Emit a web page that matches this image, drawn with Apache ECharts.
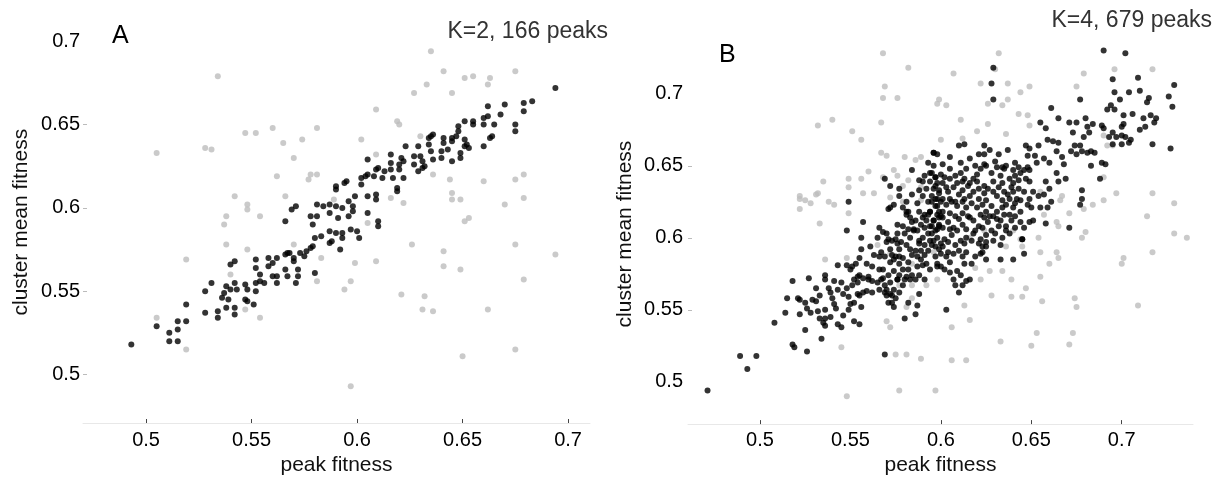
<!DOCTYPE html>
<html><head><meta charset="utf-8">
<script src="https://cdn.jsdelivr.net/npm/echarts@6/dist/echarts.min.js"></script>
<style>html,body{margin:0;padding:0;background:#fff}#c{width:1215px;height:481px}</style>
</head><body><div id="c"></div>
<script>
// Panel A (K=2): peak fitness vs cluster mean fitness
const aPeaksBlack = [
[0.493,0.518],[0.505,0.529],[0.511,0.525],[0.511,0.520],[0.515,0.520],[0.515,0.527],[0.515,0.532],[0.519,0.532],[0.519,0.542],[0.528,0.550],[0.528,0.537],[0.531,0.555],[0.534,0.538],[0.534,0.534],[0.536,0.546],[0.537,0.549],[0.538,0.553],[0.540,0.551],[0.539,0.545],[0.538,0.540],[0.542,0.540],[0.542,0.536],[0.543,0.551],[0.542,0.555],[0.540,0.566],[0.542,0.568],[0.547,0.554],[0.548,0.551],[0.547,0.545],[0.548,0.544],[0.551,0.542],[0.552,0.569],[0.552,0.564],[0.552,0.555],[0.552,0.550],[0.554,0.560],[0.554,0.556],[0.556,0.555],[0.558,0.570],[0.558,0.565],[0.560,0.567],[0.562,0.570],[0.560,0.559],[0.562,0.559],[0.562,0.555],[0.566,0.572],[0.567,0.573],[0.568,0.573],[0.570,0.570],[0.570,0.568],[0.566,0.563],[0.567,0.559],[0.571,0.555],[0.572,0.563],[0.572,0.559],[0.573,0.573],[0.575,0.571],[0.576,0.574],[0.578,0.576],[0.579,0.577],[0.580,0.582],[0.583,0.583],[0.580,0.561],[0.587,0.586],[0.587,0.579],[0.588,0.580],[0.590,0.585],[0.593,0.585],[0.593,0.582],[0.592,0.575],[0.597,0.587],[0.600,0.586],[0.601,0.582],[0.566,0.592],[0.569,0.599],[0.571,0.601],[0.578,0.595],[0.579,0.590],[0.581,0.595],[0.581,0.602],[0.584,0.601],[0.587,0.602],[0.587,0.597],[0.590,0.601],[0.591,0.594],[0.593,0.600],[0.596,0.604],[0.598,0.601],[0.598,0.598],[0.596,0.595],[0.599,0.607],[0.590,0.613],[0.590,0.611],[0.594,0.615],[0.595,0.616],[0.602,0.618],[0.604,0.619],[0.605,0.620],[0.602,0.614],[0.605,0.607],[0.605,0.597],[0.605,0.629],
[0.694,0.672],[0.679,0.663],[0.683,0.664],[0.679,0.658],[0.670,0.662],[0.668,0.656],[0.675,0.650],[0.675,0.646],[0.662,0.661],[0.662,0.655],[0.660,0.654],[0.660,0.650],[0.665,0.650],[0.664,0.643],[0.663,0.642],[0.660,0.637],[0.651,0.652],[0.655,0.652],[0.655,0.650],[0.648,0.649],[0.648,0.646],[0.647,0.643],[0.645,0.642],[0.645,0.640],[0.649,0.633],[0.649,0.630],[0.645,0.628],[0.651,0.641],[0.652,0.638],[0.653,0.636],[0.651,0.637],[0.641,0.642],[0.641,0.639],[0.643,0.635],[0.640,0.634],[0.640,0.630],[0.636,0.629],[0.635,0.643],[0.636,0.644],[0.634,0.642],[0.634,0.638],[0.635,0.634],[0.629,0.637],[0.630,0.631],[0.631,0.628],[0.632,0.625],[0.631,0.624],[0.629,0.622],[0.627,0.631],[0.627,0.626],[0.623,0.637],[0.621,0.630],[0.622,0.628],[0.620,0.626],[0.620,0.623],[0.622,0.618],[0.619,0.612],[0.619,0.610],[0.616,0.632],[0.616,0.627],[0.616,0.623],[0.617,0.618],[0.613,0.622],[0.612,0.618],[0.610,0.624],[0.609,0.623],[0.608,0.619],[0.609,0.605],[0.609,0.608],[0.610,0.592],[0.610,0.589]
];
const aPeaksGray = [
[0.534,0.679],[0.505,0.633],[0.528,0.636],[0.531,0.635],[0.547,0.645],[0.552,0.645],[0.560,0.648],[0.565,0.639],[0.574,0.641],[0.581,0.648],[0.602,0.641],[0.570,0.630],[0.562,0.619],[0.578,0.620],[0.577,0.617],[0.581,0.620],[0.542,0.607],[0.548,0.602],[0.548,0.599],[0.566,0.607],[0.538,0.595],[0.537,0.590],[0.554,0.595],[0.589,0.605],[0.605,0.591],[0.538,0.578],[0.548,0.575],[0.570,0.578],[0.583,0.570],[0.519,0.569],[0.540,0.560],[0.599,0.567],[0.597,0.556],[0.594,0.551],[0.581,0.556],[0.547,0.539],[0.554,0.534],[0.505,0.534],[0.519,0.515],[0.597,0.493],
[0.635,0.694],[0.641,0.682],[0.651,0.678],[0.655,0.679],[0.663,0.678],[0.662,0.674],[0.675,0.682],[0.633,0.674],[0.627,0.669],[0.645,0.669],[0.609,0.659],[0.619,0.652],[0.620,0.650],[0.630,0.643],[0.609,0.632],[0.636,0.620],[0.644,0.617],[0.660,0.616],[0.675,0.617],[0.679,0.620],[0.645,0.609],[0.645,0.605],[0.649,0.605],[0.616,0.606],[0.622,0.603],[0.670,0.602],[0.679,0.606],[0.651,0.592],[0.653,0.594],[0.626,0.578],[0.641,0.574],[0.609,0.568],[0.641,0.565],[0.649,0.563],[0.675,0.578],[0.694,0.572],[0.679,0.557],[0.621,0.548],[0.632,0.547],[0.631,0.539],[0.636,0.538],[0.662,0.539],[0.650,0.511],[0.675,0.515]
];
// Panel B (K=4)
const bPeaksBlack = [
[0.471,0.494],[0.489,0.518],[0.498,0.518],[0.493,0.509],[0.508,0.541],[0.518,0.526],[0.519,0.524],[0.526,0.521],
[0.515,0.558],[0.514,0.548],[0.518,0.570],[0.521,0.558],[0.522,0.557],[0.525,0.555],[0.525,0.536],[0.527,0.572],[0.528,0.548],[0.531,0.556],[0.532,0.549],[0.533,0.560],[0.536,0.574],[0.536,0.571],[0.536,0.550],[0.533,0.544],[0.535,0.541],[0.536,0.544],[0.536,0.539],[0.534,0.530],[0.538,0.565],[0.540,0.558],[0.541,0.554],[0.541,0.570],[0.543,0.581],[0.543,0.540],[0.545,0.538],
[0.548,0.581],[0.551,0.580],[0.548,0.565],[0.550,0.554],[0.549,0.550],[0.551,0.567],[0.552,0.571],[0.554,0.573],[0.554,0.569],[0.555,0.574],[0.557,0.572],[0.560,0.573],[0.554,0.561],[0.555,0.560],[0.552,0.555],[0.552,0.542],[0.555,0.540],[0.556,0.552],[0.557,0.562],[0.559,0.563],[0.562,0.562],
[0.548,0.605],[0.549,0.625],[0.556,0.600],[0.556,0.592],[0.557,0.611],[0.555,0.586],[0.561,0.594],[0.565,0.600],[0.566,0.607],
[0.567,0.590],[0.566,0.587],[0.566,0.578],[0.568,0.572],[0.569,0.567],[0.569,0.562],[0.570,0.564],[0.572,0.569],[0.572,0.561],[0.573,0.555],[0.573,0.560],[0.575,0.558],[0.567,0.571],
[0.569,0.519],
[0.580,0.544],[0.582,0.555],[0.586,0.547],[0.587,0.553],[0.588,0.561],[0.586,0.571],
[0.568,0.604],[0.570,0.597],[0.571,0.599],[0.572,0.592],[0.573,0.588],[0.574,0.585],[0.576,0.603],[0.576,0.596],[0.577,0.592],[0.577,0.587],[0.577,0.582],[0.579,0.578],[0.580,0.571],[0.581,0.573],[0.583,0.571],[0.577,0.574],[0.576,0.571],
[0.583,0.592],[0.584,0.588],[0.586,0.591],[0.587,0.587],[0.589,0.591],[0.589,0.585],[0.590,0.581],[0.591,0.588],[0.592,0.582],[0.593,0.591],[0.597,0.587],
[0.580,0.603],[0.583,0.600],[0.585,0.605],[0.588,0.598],[0.590,0.600],[0.593,0.603],[0.594,0.598],[0.597,0.605],[0.599,0.609],
[0.571,0.620],[0.572,0.621],[0.581,0.616],[0.582,0.618],[0.584,0.611],[0.585,0.606],[0.589,0.609],[0.591,0.616],[0.592,0.612],[0.594,0.618],[0.597,0.622],[0.598,0.616],[0.599,0.614],
[0.569,0.641],[0.572,0.636],[0.577,0.634],[0.584,0.647],[0.588,0.640],[0.592,0.634],[0.594,0.645],[0.596,0.659],[0.597,0.642],[0.598,0.627],[0.595,0.629],[0.593,0.625],
[0.579,0.621],[0.581,0.618],[0.583,0.614],[0.586,0.612],[0.588,0.618],[0.590,0.614],[0.593,0.616],[0.596,0.612],[0.599,0.618],
[0.576,0.609],[0.579,0.608],[0.582,0.606],[0.587,0.605],[0.591,0.607],[0.595,0.608],[0.598,0.606],
[0.570,0.603],[0.573,0.598],[0.575,0.599],[0.578,0.597],[0.581,0.595],[0.588,0.596],[0.591,0.595],[0.595,0.595],[0.599,0.592],
[0.569,0.587],[0.572,0.583],[0.575,0.587],[0.579,0.586],[0.582,0.583],[0.587,0.580],[0.594,0.578],[0.598,0.580],
[0.568,0.578],[0.571,0.574],[0.574,0.577],[0.576,0.571],[0.582,0.578],[0.584,0.574],[0.588,0.574],[0.591,0.571],
[0.565,0.569],[0.566,0.564],[0.570,0.560],[0.574,0.564],[0.577,0.562],[0.579,0.567],[0.571,0.555],[0.574,0.552],
[0.559,0.582],[0.562,0.580],[0.563,0.588],[0.560,0.571],[0.562,0.570],
[0.550,0.578],[0.553,0.582],[0.545,0.569],[0.543,0.564],[0.546,0.561],[0.549,0.559],[0.539,0.562],[0.531,0.565],[0.529,0.557],[0.526,0.551],[0.522,0.547],[0.542,0.551],[0.546,0.546],[0.539,0.545],
[0.574,0.623],[0.577,0.629],[0.581,0.625],[0.584,0.630],[0.587,0.624],[0.590,0.629],[0.588,0.633],[0.590,0.639],[0.591,0.643],[0.598,0.638],[0.599,0.633],[0.596,0.650],[0.593,0.652],
[0.690,0.730],[0.702,0.728],[0.629,0.718],[0.628,0.707],[0.629,0.696],
[0.695,0.710],[0.709,0.711],[0.729,0.706],[0.726,0.698],[0.728,0.691],
[0.696,0.701],[0.699,0.696],[0.704,0.701],[0.710,0.702],[0.715,0.697],[0.714,0.694],[0.694,0.692],[0.692,0.689],[0.696,0.689],[0.701,0.685],[0.706,0.686],[0.701,0.679],[0.700,0.677],[0.712,0.683],[0.716,0.685],[0.719,0.683],[0.718,0.680],[0.713,0.677],
[0.689,0.678],[0.690,0.676],[0.695,0.673],[0.693,0.670],[0.697,0.670],[0.700,0.671],[0.702,0.670],[0.705,0.668],[0.704,0.666],[0.700,0.665],[0.695,0.665],[0.710,0.675],[0.717,0.665],[0.727,0.662],
[0.677,0.696],[0.661,0.690],[0.665,0.683],[0.671,0.680],[0.675,0.680],[0.680,0.683],[0.684,0.679],[0.681,0.677],[0.682,0.673],[0.679,0.670],[0.677,0.664],[0.673,0.673],[0.674,0.664],[0.672,0.660],[0.675,0.658],[0.678,0.660],[0.681,0.659],[0.683,0.660],[0.685,0.659],[0.683,0.650],[0.689,0.652],[0.691,0.651],[0.688,0.641],[0.678,0.633],[0.678,0.627],[0.677,0.623],[0.671,0.607],[0.658,0.610],
[0.655,0.680],[0.658,0.676],[0.659,0.668],[0.662,0.667],[0.665,0.666],[0.664,0.660],[0.667,0.656],[0.668,0.651],[0.669,0.641],[0.665,0.639],[0.664,0.645],[0.660,0.652],[0.657,0.655],[0.654,0.664],[0.649,0.662],[0.652,0.657],[0.653,0.652],[0.647,0.664],[0.648,0.657],[0.648,0.649],[0.649,0.647],
[0.658,0.639],[0.660,0.634],[0.657,0.630],[0.654,0.629],[0.655,0.621],[0.659,0.621],[0.661,0.625],[0.649,0.639],[0.651,0.632],[0.649,0.627],[0.647,0.641],[0.644,0.645],[0.641,0.643],[0.638,0.641],[0.639,0.635],[0.643,0.634],[0.646,0.632],[0.642,0.627],[0.640,0.621],[0.644,0.618],[0.648,0.623],[0.650,0.621],[0.651,0.612],
[0.636,0.650],[0.635,0.648],[0.633,0.643],[0.631,0.649],[0.628,0.645],[0.625,0.650],[0.624,0.651],[0.622,0.648],[0.620,0.644],[0.618,0.641],[0.616,0.638],[0.613,0.641],[0.611,0.645],[0.608,0.643],[0.605,0.641],[0.602,0.642],[0.600,0.644],[0.597,0.642],[0.595,0.645],
[0.610,0.664],[0.613,0.665],[0.624,0.664],[0.627,0.661],[0.632,0.658],[0.637,0.661],[0.596,0.659],[0.601,0.651],[0.616,0.655],[0.624,0.658],
[0.596,0.634],[0.599,0.631],[0.601,0.627],[0.604,0.632],[0.607,0.635],[0.610,0.630],[0.612,0.633],[0.615,0.636],[0.618,0.632],[0.621,0.634],[0.624,0.631],[0.626,0.634],[0.629,0.632],[0.632,0.635],[0.635,0.632],[0.637,0.630],[0.640,0.632],
[0.595,0.625],[0.598,0.622],[0.601,0.618],[0.603,0.623],[0.606,0.625],[0.609,0.622],[0.612,0.625],[0.614,0.621],[0.617,0.624],[0.620,0.621],[0.623,0.623],[0.625,0.618],[0.628,0.622],[0.631,0.618],[0.634,0.621],[0.636,0.623],[0.638,0.616],[0.641,0.624],
[0.596,0.612],[0.599,0.608],[0.601,0.614],[0.604,0.611],[0.607,0.607],[0.610,0.613],[0.612,0.609],[0.615,0.615],[0.618,0.612],[0.621,0.608],[0.624,0.614],[0.626,0.611],[0.629,0.615],[0.633,0.612],[0.636,0.608],[0.639,0.612],[0.644,0.611],[0.646,0.607],
[0.595,0.603],[0.598,0.600],[0.602,0.599],[0.606,0.602],[0.611,0.598],[0.614,0.600],[0.618,0.603],[0.622,0.599],[0.625,0.602],[0.630,0.603],[0.634,0.600],[0.638,0.603],[0.645,0.599],[0.649,0.611],
[0.597,0.594],[0.601,0.594],[0.604,0.590],[0.605,0.583],[0.610,0.591],[0.612,0.587],[0.614,0.590],[0.617,0.582],[0.622,0.589],[0.623,0.594],[0.625,0.594],[0.602,0.578],[0.609,0.577],[0.607,0.571],[0.612,0.567],[0.616,0.571],[0.610,0.562],[0.603,0.550],[0.633,0.585],[0.640,0.585],[0.646,0.589],[0.645,0.599],
[0.594,0.639],[0.597,0.636],[0.601,0.638],[0.603,0.635],[0.609,0.638],[0.612,0.639],[0.620,0.639],[0.624,0.636],[0.629,0.639],[0.634,0.638],[0.640,0.638],[0.643,0.640],
[0.597,0.627],[0.600,0.625],[0.605,0.627],[0.608,0.625],[0.613,0.627],[0.616,0.629],[0.621,0.627],[0.625,0.626],[0.631,0.629],[0.634,0.626],[0.638,0.627],[0.644,0.626],
[0.594,0.618],[0.600,0.615],[0.605,0.617],[0.608,0.615],[0.612,0.617],[0.616,0.614],[0.622,0.616],[0.627,0.615],[0.631,0.613],[0.635,0.616],[0.641,0.615],
[0.594,0.608],[0.601,0.607],[0.605,0.606],[0.609,0.605],[0.614,0.606],[0.619,0.605],[0.623,0.607],[0.628,0.605],[0.632,0.608],[0.636,0.605],[0.641,0.607],
[0.596,0.598],[0.600,0.596],[0.604,0.597],[0.608,0.595],[0.613,0.596],[0.617,0.598],[0.621,0.596],[0.625,0.597],[0.629,0.598],[0.633,0.595],
[0.600,0.589],[0.603,0.587],[0.607,0.589],[0.613,0.582],[0.619,0.587],[0.623,0.590],[0.625,0.585],[0.600,0.580],[0.605,0.576],[0.611,0.574],[0.614,0.570],[0.608,0.567],[0.598,0.582],
[0.598,0.658],[0.605,0.656],[0.611,0.652],[0.619,0.650],[0.621,0.658],[0.630,0.653],[0.634,0.649],[0.641,0.652],[0.643,0.649],[0.646,0.647],[0.640,0.647],[0.605,0.648],[0.614,0.648]
];
const bPeaksGray = [
[0.551,0.674],[0.556,0.668],[0.567,0.659],[0.570,0.657],[0.580,0.656],[0.586,0.654],[0.589,0.656],
[0.560,0.646],[0.556,0.641],[0.549,0.641],[0.549,0.635],[0.549,0.617],[0.557,0.631],[0.563,0.631],[0.568,0.642],[0.574,0.647],[0.576,0.643],[0.579,0.636],[0.582,0.640],[0.589,0.635],[0.572,0.628],[0.579,0.625],[0.589,0.626],
[0.535,0.639],[0.532,0.631],[0.531,0.630],[0.522,0.629],[0.522,0.627],[0.525,0.626],[0.528,0.624],[0.538,0.625],[0.541,0.623],[0.522,0.620],[0.533,0.610],
[0.536,0.585],[0.548,0.586],[0.565,0.595],[0.577,0.567],[0.584,0.567],[0.592,0.567],[0.598,0.571],[0.581,0.552],[0.584,0.558],[0.570,0.542],[0.572,0.538],[0.545,0.524],[0.575,0.519],[0.581,0.519],[0.589,0.516],[0.548,0.490],[0.577,0.494],[0.597,0.494],[0.596,0.590],[0.584,0.582],[0.572,0.589],
[0.632,0.728],[0.630,0.717],[0.607,0.714],[0.622,0.707],[0.637,0.707],[0.644,0.701],[0.649,0.705],[0.599,0.696],[0.598,0.693],[0.603,0.692],[0.626,0.693],[0.634,0.692],[0.637,0.696],[0.611,0.682],[0.626,0.679],[0.643,0.686],[0.648,0.685],[0.649,0.678],[0.679,0.714],[0.696,0.717],[0.717,0.717],[0.675,0.705],[0.600,0.668],[0.612,0.669],[0.620,0.674],[0.636,0.672],[0.690,0.671],[0.692,0.664],[0.695,0.664],
[0.697,0.631],[0.717,0.631],[0.729,0.624],[0.714,0.615],[0.729,0.603],[0.736,0.600],[0.717,0.590],[0.701,0.586],[0.700,0.582],[0.690,0.626],[0.684,0.623],[0.690,0.642],
[0.679,0.620],[0.680,0.604],[0.678,0.600],[0.671,0.617],[0.667,0.629],[0.666,0.626],[0.664,0.611],[0.665,0.608],[0.657,0.616],
[0.654,0.600],[0.655,0.590],[0.664,0.590],[0.665,0.586],[0.660,0.582],[0.645,0.594],[0.644,0.599],[0.636,0.594],[0.634,0.577],[0.639,0.571],[0.647,0.565],[0.639,0.559],[0.645,0.559],[0.628,0.560],[0.627,0.577],[0.619,0.579],[0.622,0.571],[0.613,0.553],[0.616,0.543],[0.606,0.538],
[0.655,0.573],[0.656,0.556],[0.674,0.558],[0.675,0.552],[0.653,0.534],[0.673,0.534],[0.671,0.526],[0.650,0.525],[0.633,0.528],[0.709,0.553],
[0.616,0.600],[0.624,0.605],[0.640,0.605],[0.655,0.632],[0.606,0.515],[0.614,0.515],
[0.568,0.728],[0.582,0.718],[0.569,0.705],[0.568,0.697],[0.576,0.697],[0.567,0.680],[0.532,0.678],[0.540,0.682]
];
const tickLabelValues = [0.5, 0.55, 0.6, 0.65, 0.7];
const aXTickValues = [0.5, 0.55, 0.6, 0.65, 0.7];
const aYTickValues = [0.5, 0.55, 0.6, 0.65];
const bXTickValues = [0.5, 0.6, 0.65, 0.7];
const bYTickValues = [0.55, 0.6, 0.65];
const panelLetters = ['A', 'B'];
const panelTitles = ['K=2, 166 peaks', 'K=4, 679 peaks'];
const xName = 'peak fitness';
const yName = 'cluster mean fitness';

const FONT = 'Liberation Sans, Arial, Helvetica, sans-serif';
const chart = echarts.init(document.getElementById('c'), null, {renderer: 'canvas'});

function xAxisCfg(gi, min, max, ticks, gap, margin) {
  return {
    type: 'value', gridIndex: gi, min: min, max: max,
    name: xName, nameLocation: 'middle', nameGap: gap,
    nameTextStyle: {fontFamily: FONT, fontSize: 21, color: '#111'},
    axisLine: {show: true, lineStyle: {color: '#e8e8e8', width: 1}},
    axisTick: {show: true, inside: true, length: 4, customValues: ticks, lineStyle: {color: '#444'}},
    axisLabel: {customValues: tickLabelValues, margin: margin, fontFamily: FONT, fontSize: 20, color: '#000'},
    splitLine: {show: false}
  };
}
function yAxisCfg(gi, min, max, ticks, gap, margin) {
  return {
    type: 'value', gridIndex: gi, min: min, max: max,
    name: yName, nameLocation: 'middle', nameGap: gap, nameRotate: 90,
    nameTextStyle: {fontFamily: FONT, fontSize: 21, color: '#111'},
    axisLine: {show: false},
    axisTick: {show: true, inside: true, length: 4, customValues: ticks, lineStyle: {color: '#bbb'}},
    axisLabel: {customValues: tickLabelValues, margin: margin, fontFamily: FONT, fontSize: 20, color: '#000'},
    splitLine: {show: false}
  };
}

const option = {
  backgroundColor: '#fff',
  animation: false,
  title: [
    {text: panelLetters[0], left: 112, top: 24, padding: 0, textStyle: {fontFamily: FONT, fontSize: 25, fontWeight: 'normal', color: '#000'}},
    {text: panelLetters[1], left: 719, top: 43, padding: 0, textStyle: {fontFamily: FONT, fontSize: 25, fontWeight: 'normal', color: '#000'}},
    {text: panelTitles[0], right: 607, top: 20, padding: 0, textStyle: {fontFamily: FONT, fontSize: 23, fontWeight: 'normal', color: '#333'}},
    {text: panelTitles[1], right: 3, top: 9, padding: 0, textStyle: {fontFamily: FONT, fontSize: 23, fontWeight: 'normal', color: '#333'}}
  ],
  grid: [
    {left: 83, top: 21.3, width: 507, height: 401.7},
    {left: 688, top: 44, width: 505, height: 391}
  ],
  xAxis: [
    xAxisCfg(0, 0.4701, 0.7104, aXTickValues, 27, 7),
    xAxisCfg(1, 0.4602, 0.7394, bXTickValues, 24, 6)
  ],
  yAxis: [
    yAxisCfg(0, 0.4709, 0.712, aYTickValues, 51, 3),
    yAxisCfg(1, 0.4707, 0.7345, bYTickValues, 52, 5)
  ],
  series: [
    {type: 'scatter', xAxisIndex: 0, yAxisIndex: 0, data: aPeaksGray, symbolSize: 6, itemStyle: {color: '#bdbdbd'}, silent: true},
    {type: 'scatter', xAxisIndex: 0, yAxisIndex: 0, data: aPeaksBlack, symbolSize: 6, itemStyle: {color: '#000'}, silent: true},
    {type: 'scatter', xAxisIndex: 1, yAxisIndex: 1, data: bPeaksGray, symbolSize: 6, itemStyle: {color: '#bdbdbd'}, silent: true},
    {type: 'scatter', xAxisIndex: 1, yAxisIndex: 1, data: bPeaksBlack, symbolSize: 6, itemStyle: {color: '#000'}, silent: true}
  ]
};
chart.setOption(option);
</script>
</body></html>
